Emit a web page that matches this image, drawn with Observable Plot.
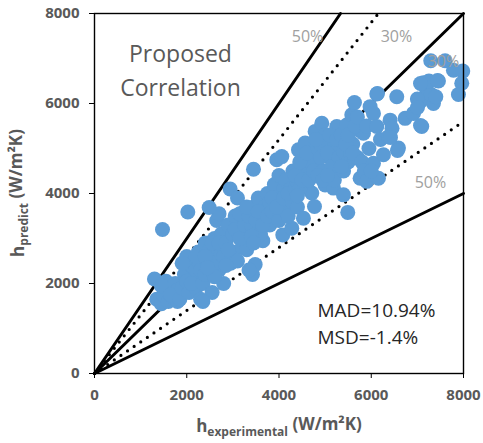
<!DOCTYPE html>
<html><head><meta charset="utf-8">
<script src="https://cdn.jsdelivr.net/npm/d3@7"></script>
<script src="https://cdn.jsdelivr.net/npm/@observablehq/plot@0.6"></script>
<style>body{margin:0;background:#fff;} svg{font-family:"Open Sans",sans-serif;}</style>
</head><body><div id="chart"></div>
<script>
// experimental vs predicted heat transfer coefficient (W/m2K)
const hExp = [
1350,1300,1450,1500,1600,1650,1550,1700,1750,1800,1450,1474,1800,1650,
1850,1900,1950,2000,2050,2100,2150,2200,2250,2300,2000,2200,2023,1900,2250,2100,2300,2200,
2350,2400,2450,2500,2550,2600,2650,2700,2750,2800,2500,2600,2650,2700,2486,2400,2750,2350,2400,2550,2600,2800,2700,2450,
2850,2900,2941,3000,3050,3100,3150,3200,3250,3300,2950,3100,2850,3200,3000,3300,2900,3050,3150,3250,3150,
3425,3483,3350,3400,3450,3500,3550,3600,3650,3700,3750,3800,3447,3600,3350,3700,3300,3400,3500,3550,3650,3750,3450,3800,
3850,3900,3952,4000,4061,4050,4100,4082,4150,4200,4250,4277,4300,4000,3900,4200,3850,3950,4100,4150,4250,4300,4200,
4350,4400,4422,4450,4500,4530,4566,4600,4650,4700,4711,4769,4783,4800,4400,4600,4350,4450,4500,4550,4650,4700,4750,4450,4600,4400,
4850,4928,4950,5000,5050,5100,5145,5181,5200,5253,5253,5300,4900,5000,4850,4900,4950,4800,5050,5100,5150,5250,5300,5200,5050,
5350,5397,5397,5470,5491,5500,5578,5600,5636,5700,5759,5750,5831,5400,5550,5350,5450,5500,5600,5650,5700,5800,5850,5900,
5903,5975,6048,6048,6120,6120,6156,6264,6200,6373,6409,6553,6590,5950,6000,6450,6135,6569,6417,
6734,6915,7060,7095,7131,7290,7348,7457,7601,7782,7984,7962,7890,7200,7300,7000,7400,7250,7068,7436,7002,7068
];
const hPred = [
1650,2100,1550,1750,1600,1900,2050,1700,2000,1600,1950,3200,1850,1750,
1650,1900,2200,2600,1800,2400,2100,1900,2700,1650,2050,2300,3590,2450,2500,2000,2300,2600,
2000,2900,2500,2200,1800,3000,2700,2300,3100,2000,2750,2450,3400,3550,3690,2200,2650,1600,2600,2900,2150,2600,2900,2350,
2900,3300,4100,2700,3500,3900,3200,2800,3600,3050,2450,2500,2400,3400,3100,2750,2750,3200,3000,3300,3550,
2200,2420,2300,3300,3700,3000,3900,3400,2950,3700,4000,3300,4540,3100,3500,3500,3700,3050,3400,3600,3300,3500,2900,3800,
3600,4200,4750,3400,4820,3800,4100,3080,3600,4300,3900,3230,4500,4400,3900,3500,3900,3700,3900,4300,4100,3800,4000,
4100,3700,4970,4400,4600,3450,5120,4200,4800,4400,4010,3710,5380,4700,4250,4500,4400,4100,4300,4700,4300,4700,4500,4700,4900,3950,
5000,5560,4500,4190,5200,4800,5120,4120,4500,5490,4670,5000,4800,5300,4400,5100,4300,5200,4900,5300,4600,5200,4800,4300,4400,
5300,4930,3970,5520,3580,4700,5750,5100,6020,4800,4340,5400,5340,4500,4900,4600,5100,5300,4900,5500,5700,4700,4500,5500,
4270,5930,5780,4670,6210,5490,4340,4860,5200,5260,5630,6150,5010,5000,4500,5450,6222,4956,5244,
5670,5780,6040,5490,6460,6950,6000,6500,6950,6740,6720,6450,6200,6300,6200,6100,6150,6500,6444,6511,5911,5511
];
const points = hExp.map((x, i) => ({x, y: hPred[i]}));

// deviation bands: ratio of predicted to experimental
const solidRatios = [1.5, 1.0, 0.5];
const dottedRatios = [1.3, 0.7];
const axisMax = 8000;
const ticks = [0, 2000, 4000, 6000, 8000];
const rayOf = r => [{x: 0, y: 0}, {x: Math.min(axisMax, axisMax / r), y: Math.min(axisMax, axisMax * r)}];

const bandLabels = ["50%", "30%", "30%", "50%"];
const bandLabelX = [4618, 6547, 7566, 7284];
const bandLabelY = [7489, 7489, 6933, 4244];
const bandLabelData = bandLabels.map((t, i) => ({t, x: bandLabelX[i], y: bandLabelY[i]}));

const titleText = "Proposed\nCorrelation";
const statsText = "MAD=10.94%\nMSD=-1.4%";

const plot = Plot.plot({
  width: 483, height: 443,
  marginLeft: 94, marginRight: 20, marginTop: 13, marginBottom: 70,
  x: {domain: [0, axisMax]},
  y: {domain: [0, axisMax]},
  style: {fontFamily: "Open Sans", background: "#fff"},
  marks: [
    ...solidRatios.map(r => Plot.line(rayOf(r), {x: "x", y: "y", stroke: "black", strokeWidth: 3})),
    ...dottedRatios.map(r => Plot.line(rayOf(r), {x: "x", y: "y", stroke: "black", strokeWidth: 3.2, strokeDasharray: "0 8", strokeLinecap: "round"})),
    Plot.dot(points, {x: "x", y: "y", r: 7.5, fill: "#5B9BD5", stroke: null}),
    Plot.frame({stroke: "black", strokeWidth: 1.4}),
    Plot.axisX({ticks, tickSize: 5, tickPadding: 11, stroke: "black", fill: "#595959", fontWeight: "bold", fontSize: 15, label: null, tickFormat: d => String(d)}),
    Plot.axisY({ticks, tickSize: 5, tickPadding: 10, stroke: "black", fill: "#595959", fontWeight: "bold", fontSize: 15, label: null, tickFormat: d => String(d)}),
    Plot.text([titleText], {x: 1864, y: 6790, text: d => d, fontSize: 23, fill: "#595959", lineHeight: 1.5, textAnchor: "middle"}),
    Plot.text([statsText], {x: 4835, y: 1144, text: d => d, fontSize: 19, fill: "#262626", lineHeight: 1.4, textAnchor: "start"}),
    Plot.text(bandLabelData, {x: "x", y: "y", text: "t", fontSize: 16, fill: "#A0A0A0"})
  ]
});
document.getElementById("chart").appendChild(plot);

const svg = d3.select(plot);
function addLabel(x, y, rotate, main, sub, rest) {
  const t = svg.append("text")
    .attr("transform", `translate(${x},${y}) rotate(${rotate})`)
    .attr("text-anchor", "middle")
    .attr("fill", "#595959")
    .attr("font-weight", "bold")
    .attr("font-size", 17)
    .attr("font-family", "Open Sans");
  t.append("tspan").text(main);
  t.append("tspan").attr("font-size", 12).attr("dy", "0.35em").text(sub);
  t.append("tspan").attr("dy", "-0.35em").text(rest);
}
addLabel(279, 432, 0, "h", "experimental", " (W/m²K)");
addLabel(24, 193, -90, "h", "predict", " (W/m²K)");
</script></body></html>
